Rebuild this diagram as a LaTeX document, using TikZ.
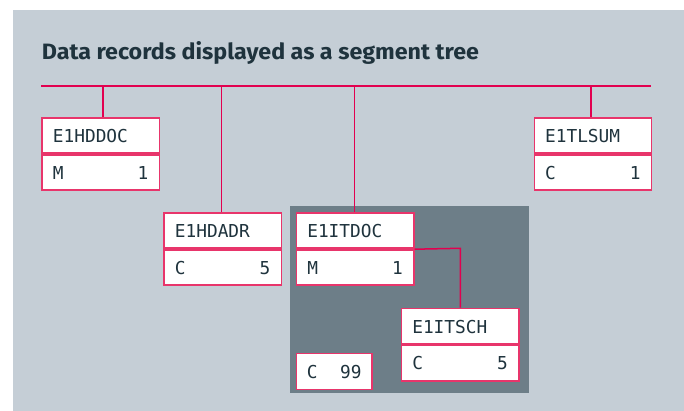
\documentclass[tikz,border=0pt]{standalone}
\usepackage{fontspec}
\usepackage{graphicx}
\newfontfamily\titlefont{Fira Sans}[UprightFont=* Bold]
\newfontfamily\recfont{DejaVu Sans Mono}
\definecolor{bgcol}{HTML}{C5CED6}
\definecolor{panelcol}{HTML}{6D7E88}
\definecolor{linecol}{HTML}{E2004F}
\definecolor{boxline}{HTML}{E8356B}
\definecolor{inkcol}{HTML}{1F333D}
\tikzset{
  rowbox/.style={draw=boxline, line width=1.7pt, fill=white, rectangle,
    minimum width=117.2pt, minimum height=35.2pt, inner sep=0pt, anchor=north west},
  smallbox/.style={draw=boxline, line width=1.7pt, fill=white, rectangle,
    minimum width=75.6pt, minimum height=36pt, inner sep=0pt, anchor=north west},
  lbl/.style={inner sep=0pt, text=inkcol, font=\recfont\fontsize{17.8}{20}\selectfont},
  conn/.style={draw=linecol, line width=1.5pt},
}
% #1 name, #2 x, #3 y, #4 title, #5 left code, #6 right number
\newcommand\recbox[6]{%
  \node[rowbox] (#1) at (#2,#3) {};
  \node[rowbox] (#1b) at (#1.south west) {};
  \node[lbl, anchor=base west] (#1t) at ([xshift=11.4pt, yshift=-25.7pt]#1.north west) {#4};
  \node[lbl, anchor=base west] (#1l) at ([xshift=11.4pt, yshift=-25.3pt]#1b.north west) {#5};
  \node[lbl, anchor=base east] (#1r) at ([xshift=-11.6pt, yshift=-25.3pt]#1b.north east) {#6};
}
\begin{document}
\begin{tikzpicture}[x=1pt, y=-1pt]
\useasboundingbox (0,0) rectangle (684,411);
\fill[bgcol] (13,10) rectangle (684,411);
\fill[panelcol] (290,206) rectangle (529,392.7);
\node[anchor=base west, inner sep=0pt, text=inkcol] (title) at (41.7,59.3)
  {\resizebox{437pt}{\height}{\titlefont\fontsize{22.2}{26}\selectfont Data records displayed as a segment tree}};
% bus line
\coordinate (busl) at (41.3,86);
\coordinate (busr) at (650.7,86);
\draw[conn] (busl) -- (busr);
\coordinate (b1) at (103,86);
\coordinate (b2) at (221.7,86);
\coordinate (b3) at (354.3,86);
\coordinate (b5) at (591,86);
% connectors
\coordinate (bend) at (460.3,248.3);
\recbox{hddoc}{41.3}{117}{E1HDDOC}{M}{1}
\recbox{hdadr}{163.3}{212.3}{E1HDADR}{C}{5}
\recbox{itdoc}{295.7}{212.3}{E1ITDOC}{M}{1}
\recbox{itsch}{400.7}{307.7}{E1ITSCH}{C}{5}
\recbox{tlsum}{533.5}{117}{E1TLSUM}{C}{1}
\node[smallbox] (c99) at (295.7,352.7) {};
\node[lbl, anchor=base west] (c99l) at ([xshift=11pt, yshift=-25.6pt]c99.north west) {C};
\node[lbl, anchor=base east] (c99r) at ([xshift=-11.3pt, yshift=-25.6pt]c99.north east) {99};
\draw[conn] (b1) -- (b1 |- hddoc.north);
\draw[conn] (b2) -- (b2 |- hdadr.north);
\draw[conn] (b3) -- (b3 |- itdoc.north);
\draw[conn] (b5) -- (b5 |- tlsum.north);
\draw[conn] (itdoc.south east) -- (bend) -- (bend |- itsch.north);
\end{tikzpicture}
\end{document}
